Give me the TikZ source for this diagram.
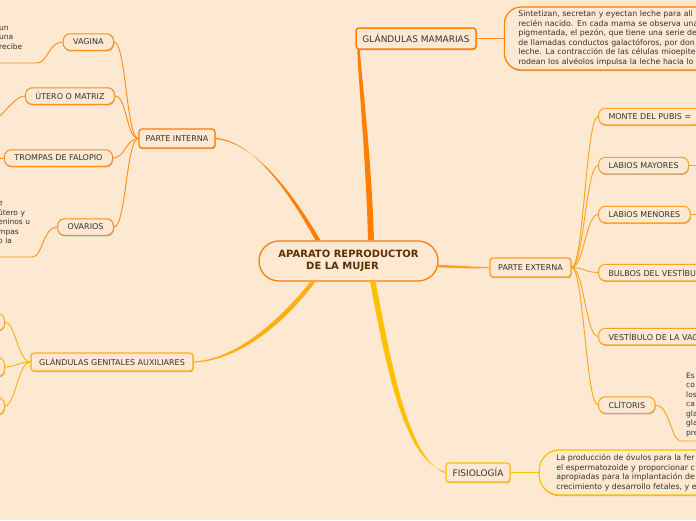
\documentclass[tikz,border=0pt]{standalone}
\usepackage{fontspec}
\setmainfont{DejaVu Sans}
\usepackage{tikz}
\usetikzlibrary{positioning,calc,shadows}
\definecolor{bg}{HTML}{FDE8D2}
\definecolor{ink}{HTML}{333333}
\definecolor{rootink}{HTML}{5C3000}
\definecolor{orng}{HTML}{FF7F00}
\definecolor{orlt}{HTML}{FF8C1A}
\definecolor{ambr}{HTML}{FFB00F}
\definecolor{extn}{HTML}{FFA11F}
\definecolor{gold}{HTML}{FFC000}

\tikzset{
  softshadow/.style={drop shadow={shadow xshift=0.5pt, shadow yshift=-1.2pt, opacity=.25, fill=black}},
  topic/.style={draw, fill=bg, rounded corners=3pt, line width=1.3pt, text=ink,
    font=\fontsize{8}{9.6}\selectfont, minimum height=19pt, inner xsep=6pt, inner ysep=0pt, softshadow},
  leaf/.style={topic, rounded corners=7pt, line width=1pt, minimum height=16.5pt, inner xsep=10pt},
  descbox/.style={draw, fill=bg, rounded corners=17pt, line width=1.2pt, align=left, text=ink,
    font=\fontsize{7.8}{9.5}\selectfont, text width=260pt, inner xsep=14pt, softshadow},
  note/.style={align=left, text=ink, font=\fontsize{7.5}{9.5}\selectfont, inner xsep=0pt},
  twig/.style={line width=0.9pt},
}

\begin{document}
\begin{tikzpicture}[x=1pt, y=-1pt]
\useasboundingbox (0,0) rectangle (696,520);
\fill[bg] (0,0) rectangle (696,520);
\begin{scope}
\clip (0,0) rectangle (696,520);

% centre
\node[draw=orng, fill=bg, line width=1.3pt, rounded corners=20pt, minimum width=179pt, minimum height=40pt,
  align=center, text=rootink, font=\fontsize{10}{12}\selectfont\bfseries] (root) at (348.5,261)
  {APARATO REPRODUCTOR\\DE LA MUJER\hspace*{12pt}};

% main topics
\node[topic, draw=orng, line width=1.5pt, font=\fontsize{9}{10.8}\selectfont, minimum width=120pt, minimum height=21pt] (gm) at (416,38.5) {GLÁNDULAS MAMARIAS};
\node[descbox, draw=orng, minimum height=63pt, right=27pt of gm] (gmd) {%
  Sintetizan, secretan y eyectan leche para ali\\
  recién nacido. En cada mama se observa una\\
  pigmentada, el pezón, que tiene una serie de\\
  de llamadas conductos galactóforos, por don\\
  leche. La contracción de las células mioepite\\
  rodean los alvéolos impulsa la leche hacia lo};

\node[topic, draw=orng, minimum width=76pt] (pi) at (177,138.5) {PARTE INTERNA};
\node[topic, draw=ambr, minimum width=162pt, minimum height=18pt] (gg) at (112,362) {GLÁNDULAS GENITALES AUXILIARES};
\node[topic, draw=extn, minimum width=81pt] (pe) at (530.5,267.5) {PARTE EXTERNA};
\node[topic, draw=gold, font=\fontsize{9}{10.8}\selectfont, minimum width=64pt] (fi) at (478,472.5) {FISIOLOGÍA};
\node[descbox, draw=gold, rounded corners=20pt, minimum height=45pt, inner xsep=17pt, right=28pt of fi] (fid) {%
  La producción de óvulos para la fer\\
  el espermatozoide y proporcionar c\\
  apropiadas para la implantación de\\
  crecimiento y desarrollo fetales, y e};

% parte interna
\node[leaf, draw=orlt, anchor=east] (vag) at (114,42) {VAGINA};
\node[leaf, draw=orlt, anchor=east] (ute) at (115,96) {ÚTERO O MATRIZ};
\node[leaf, draw=orlt, anchor=east] (tro) at (113,158) {TROMPAS DE FALOPIO};
\node[leaf, draw=orlt, anchor=east] (ova) at (114,227) {OVARIOS};
\node[note, text width=38pt, anchor=south west, inner ysep=13.5pt] (vag-t) at (-1,63) {un\\una\\recibe};
\node[note, text width=34pt, anchor=south west, inner ysep=13pt] (ova-t) at (-2,257) {e\\útero y\\eninos u\\mpas\\o la};
\coordinate (ute-t) at (-12,124);
\coordinate (tro-t) at (-20,175);

% auxiliares (cut off at the left)
\node[leaf, draw=ambr, anchor=east, minimum width=60pt, minimum height=17pt] (ga1) at (5,322) {};
\node[leaf, draw=ambr, anchor=east, minimum width=60pt, minimum height=19pt] (ga2) at (5,367) {};
\node[leaf, draw=ambr, anchor=east, minimum width=60pt, minimum height=17pt] (ga3) at (5,406) {};

% parte externa
\node[leaf, draw=extn, anchor=west] (mon) at (598,116.5) {MONTE DEL PUBIS =};
\node[leaf, draw=extn, anchor=west] (lma) at (598,165.5) {LABIOS MAYORES};
\node[leaf, draw=extn, anchor=west] (lme) at (598,214.5) {LABIOS MENORES};
\node[leaf, draw=extn, anchor=west] (bul) at (598,272.5) {BULBOS DEL VESTÍBULO};
\node[leaf, draw=extn, anchor=west] (ves) at (598,336.5) {VESTÍBULO DE LA VAGINA};
\node[leaf, draw=extn, anchor=west] (cli) at (598,405) {CLÍTORIS};
\node[note, text width=30pt, anchor=south west, inner xsep=5pt, inner ysep=4pt] (cli-t) at (681,441) {Es\\co\\los\\ca\\gla\\gla\\pre};
\coordinate (lma-t) at (720,165.5);
\coordinate (lme-t) at (720,214.5);

% main branches, thick at the centre
\fill[orng] ($(root.north)+(-33,0)$) .. controls (292,198) and (256,141.5) .. ($(pi.east)+(0,-0.6)$)
  -- ($(pi.east)+(0,0.6)$) .. controls (258,142.5) and (298,202) .. ($(root.north)+(-28,0)$) -- cycle;
\fill[orng] ($(root.north)+(19.5,0)$) .. controls (366,160) and (359,90) .. ($(gm.south west)+(2,0)$)
  -- ($(gm.south west)+(4.5,0)$) .. controls (363,90) and (371.5,160) .. ($(root.north)+(25.5,0)$) -- cycle;
\fill[ambr] ($(root.south)+(-38,0)$) .. controls (283,316) and (238,359.5) .. ($(gg.east)+(0,-0.6)$)
  -- ($(gg.east)+(0,0.6)$) .. controls (242,360.5) and (287,320) .. ($(root.south)+(-33,0)$) -- cycle;
\fill[extn] ($(root.east)+(-1,3.8)$) .. controls (465,265.8) and (472,266.9) .. ($(pe.west)+(0,-0.6)$)
  -- ($(pe.west)+(0,0.6)$) .. controls (472,268.5) and (465,268.4) .. ($(root.east)+(-1,6.4)$) -- cycle;
\fill[gold] ($(root.south)+(21.5,0)$) .. controls (385,360) and (403,461.5) .. ($(fi.west)+(0,-0.8)$)
  -- ($(fi.west)+(0,0.8)$) .. controls (407,459) and (391,360) .. ($(root.south)+(27,0)$) -- cycle;

% side links
\draw[orlt, line width=1.2pt] (gm.east) -- (gmd.west);
\draw[gold, line width=1.2pt] (fi.east) -- (fid.west);
\foreach \n in {vag,ute,tro,ova}
  \draw[twig, orlt] (\n.east) .. controls +(12,0) and +(-12,0) .. (pi.west);
\draw[twig, orlt] (vag.west) .. controls +(-14,0) and +(10,0) .. (vag-t.south east) -- (vag-t.south west);
\draw[twig, orlt] (ute.west) .. controls +(-12,0) and +(10,0) .. (ute-t);
\draw[twig, orlt] (tro.west) .. controls +(-12,0) and +(10,0) .. (tro-t);
\draw[twig, orlt] (ova.west) .. controls +(-14,0) and +(10,0) .. (ova-t.south east) -- (ova-t.south west);
\foreach \n in {ga1,ga2,ga3}
  \draw[twig, ambr] (gg.west) .. controls +(-12,0) and +(10,0) .. (\n.east);
\foreach \n in {mon,lma,lme,bul,ves,cli}
  \draw[twig, extn] (pe.east) .. controls +(12,0) and +(-12,0) .. (\n.west);
\draw[twig, extn] (lma.east) -- (lma-t);
\draw[twig, extn] (lme.east) -- (lme-t);
\draw[twig, extn] (cli.east) .. controls +(14,0) and +(-10,0) .. (cli-t.south west) -- (cli-t.south east);
\end{scope}
\end{tikzpicture}
\end{document}
